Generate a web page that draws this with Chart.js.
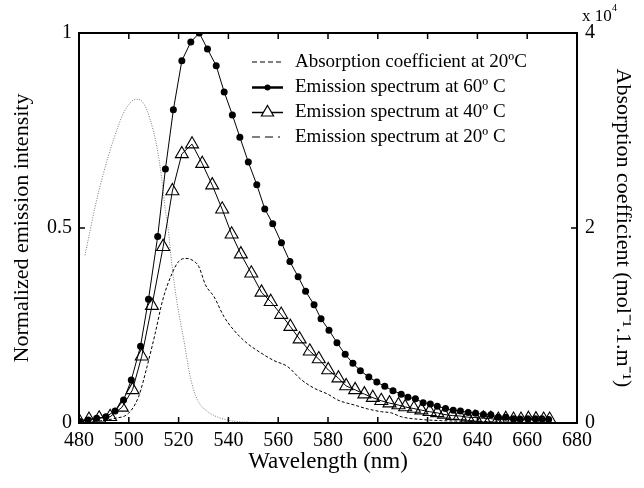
<!DOCTYPE html>
<html>
<head>
<meta charset="utf-8">
<script src="https://cdn.jsdelivr.net/npm/chart.js@4.4.1/dist/chart.umd.min.js"></script>
<style>
html, body { margin: 0; padding: 0; background: #fff; }
#wrap { width: 644px; height: 488px; }
</style>
</head>
<body>
<div id="wrap"><canvas id="chart" width="644" height="488"></canvas></div>
<script>
// emission spectrum at 60 C (wavelength nm, normalized intensity)
var em60Wl = [480.3, 483.7, 487.1, 490.8, 494.5, 497.9, 501.0, 504.7, 507.9, 511.6,
    514.7, 517.9, 521.3, 524.9, 528.3, 531.6, 535.1, 538.3, 541.6, 544.6,
    548.0, 551.4, 554.6, 557.8, 561.3, 564.7, 568.0, 571.0, 574.4, 577.2,
    580.4, 583.6, 586.9, 590.0, 593.0, 596.4, 599.6, 602.8, 606.1, 609.4,
    612.1, 615.1, 618.2, 621.1, 623.9, 627.2, 630.3, 633.2, 636.3, 639.3,
    642.4, 645.4, 648.4, 651.4, 654.5, 657.1, 660.2, 663.2, 665.9, 668.6]
var em60 = [0.004, 0.008, 0.012, 0.016, 0.031, 0.059, 0.110, 0.197, 0.317, 0.478,
    0.651, 0.803, 0.929, 0.977, 1.0, 0.959, 0.916, 0.849, 0.790, 0.733,
    0.669, 0.611, 0.549, 0.511, 0.462, 0.414, 0.375, 0.338, 0.303, 0.267,
    0.238, 0.206, 0.176, 0.153, 0.134, 0.118, 0.105, 0.094, 0.083, 0.074,
    0.066, 0.062, 0.052, 0.049, 0.043, 0.037, 0.033, 0.031, 0.027, 0.025,
    0.022, 0.021, 0.015, 0.015, 0.011, 0.010, 0.011, 0.011, 0.011, 0.009]

// emission spectrum at 40 C
var em40Wl = [480.0, 484.0, 488.1, 492.5, 497.2, 501.5, 505.2, 509.3, 513.8, 517.5,
    521.3, 525.4, 529.5, 533.5, 537.5, 541.3, 545.0, 549.2, 553.3, 557.0,
    561.2, 564.9, 568.6, 572.7, 576.3, 580.1, 584.2, 587.3, 590.9, 594.6,
    598.0, 601.4, 604.7, 608.3, 611.0, 614.5, 617.5, 620.8, 623.9, 626.6,
    629.9, 632.9, 636.0, 639.0, 642.4, 645.4, 648.4, 651.4, 654.5, 657.5,
    660.5, 663.5, 666.6, 669.0]
var em40 = [0.006, 0.009, 0.012, 0.016, 0.040, 0.085, 0.171, 0.301, 0.452, 0.595,
    0.690, 0.715, 0.665, 0.610, 0.548, 0.484, 0.433, 0.384, 0.335, 0.311,
    0.278, 0.247, 0.215, 0.184, 0.164, 0.136, 0.115, 0.095, 0.085, 0.074,
    0.065, 0.057, 0.051, 0.046, 0.041, 0.037, 0.033, 0.029, 0.026, 0.022,
    0.019, 0.018, 0.015, 0.014, 0.012, 0.011, 0.009, 0.011, 0.009, 0.009,
    0.011, 0.010, 0.009, 0.009]

// emission spectrum at 20 C
var em20Wl = [488, 494.5, 499.9, 503.9, 507.3, 510.6, 513.6, 517.4, 520.0, 522.7,
    525.4, 528.1, 530.8, 534.2, 538.2, 542.2, 547.6, 553.0, 558.3, 563.7,
    569.1, 574.5, 579.9, 583.9, 590.6, 596.0, 601.4, 605.4, 609.4, 617.5,
    625.6, 640, 655, 670]
var em20 = [0.005, 0.012, 0.025, 0.067, 0.144, 0.230, 0.315, 0.384, 0.414, 0.422,
    0.418, 0.401, 0.354, 0.324, 0.273, 0.238, 0.204, 0.180, 0.160, 0.145,
    0.112, 0.089, 0.074, 0.059, 0.046, 0.036, 0.029, 0.026, 0.016, 0.009,
    0.006, 0.004, 0.002, 0.001]

// absorption coefficient at 20 C (x 10^4 mol-1.l.m-1)
var absWl = [482.4, 486.5, 489.8, 493.8, 497.9, 501.2, 503.2, 505.9, 508.6, 511.3,
    513.3, 514.7, 515.6, 517.4, 519.4, 522.1, 524.8, 527.5, 531.5, 536.9,
    544.9, 560, 580, 600, 620, 640, 660, 672]
var absCoef = [1.72, 2.22, 2.56, 2.90, 3.18, 3.30, 3.32, 3.28, 3.11, 2.83,
    2.49, 2.18, 2.04, 1.60, 1.23, 0.85, 0.46, 0.24, 0.12, 0.05,
    0.012, 0.004, 0.002, 0, 0, 0, 0, 0]

var xTicks = [480, 680, 20]
var yTicks = [0, 1, 0.5]
var y2Ticks = [0, 4, 2]

var legendLabels = [
    "Absorption coefficient at 20\u00baC",
    "Emission spectrum at 60\u00ba C",
    "Emission spectrum at 40\u00ba C",
    "Emission spectrum at 20\u00ba C"
]

var serif = "'Liberation Serif', 'Times New Roman', serif"

function pts(xs, ys) {
    return xs.map((x, i) => ({ x: x, y: ys[i] }))
}

var framePlugin = {
    id: 'frame',
    afterDatasetsDraw(chart) {
        var ctx = chart.ctx
        var a = chart.chartArea
        var sx = chart.scales.x, sy = chart.scales.y, sy2 = chart.scales.y2
        ctx.save()
        ctx.strokeStyle = '#000'
        ctx.setLineDash([])
        ctx.lineWidth = 2
        ctx.strokeRect(a.left, a.top, a.right - a.left, a.bottom - a.top)
        ctx.lineWidth = 1.5
        ctx.beginPath()
        sx.ticks.forEach(t => {
            var px = sx.getPixelForValue(t.value)
            ctx.moveTo(px, a.bottom); ctx.lineTo(px, a.bottom - 6)
            ctx.moveTo(px, a.top); ctx.lineTo(px, a.top + 6)
        })
        sy.ticks.forEach(t => {
            var py = sy.getPixelForValue(t.value)
            ctx.moveTo(a.left, py); ctx.lineTo(a.left + 6, py)
        })
        sy2.ticks.forEach(t => {
            var py = sy2.getPixelForValue(t.value)
            ctx.moveTo(a.right, py); ctx.lineTo(a.right - 6, py)
        })
        ctx.stroke()

        // x 10^4 multiplier
        ctx.fillStyle = '#000'
        ctx.textBaseline = 'alphabetic'
        ctx.textAlign = 'left'
        ctx.font = '17px ' + serif
        ctx.fillText('x 10', a.right + 5, 21)
        ctx.font = '10px ' + serif
        ctx.fillText('4', a.right + 35, 11)

        // legend
        var rows = [62, 87.5, 112.5, 137]
        var x0 = 252, x1 = 283, xm = (x0 + x1) / 2
        ctx.strokeStyle = '#000'
        ctx.lineWidth = 1
        ctx.setLineDash([5, 3])
        ctx.beginPath(); ctx.moveTo(x0, rows[0]); ctx.lineTo(x1, rows[0]); ctx.stroke()
        ctx.setLineDash([])
        ctx.lineWidth = 2.5
        ctx.beginPath(); ctx.moveTo(x0, rows[1]); ctx.lineTo(x1, rows[1]); ctx.stroke()
        ctx.beginPath(); ctx.arc(xm, rows[1], 3, 0, Math.PI * 2); ctx.fill()
        ctx.lineWidth = 1.5
        ctx.beginPath(); ctx.moveTo(x0, rows[2]); ctx.lineTo(x1, rows[2]); ctx.stroke()
        ctx.lineWidth = 1.2
        ctx.beginPath()
        ctx.moveTo(xm, rows[2] - 7)
        ctx.lineTo(xm + 6.1, rows[2] + 3.5)
        ctx.lineTo(xm - 6.1, rows[2] + 3.5)
        ctx.closePath()
        ctx.fillStyle = '#fff'; ctx.fill(); ctx.stroke()
        ctx.lineWidth = 1.2
        ctx.setLineDash([8, 5, 8, 5, 2, 5])
        ctx.beginPath(); ctx.moveTo(x0, rows[3]); ctx.lineTo(x1 + 2, rows[3]); ctx.stroke()
        ctx.setLineDash([])

        ctx.fillStyle = '#000'
        ctx.font = '19px ' + serif
        ctx.textBaseline = 'middle'
        legendLabels.forEach((s, i) => ctx.fillText(s, 295, rows[i]))
        ctx.restore()
    }
}

var ctx = document.getElementById("chart").getContext('2d')

var config = {
    type: 'line',
    data: {
        datasets: [{
            label: legendLabels[1],
            data: pts(em60Wl, em60),
            borderColor: '#000',
            backgroundColor: '#000',
            borderWidth: 1,
            pointRadius: 3.5,
            pointStyle: 'circle',
            pointBorderWidth: 0,
            tension: 0,
            yAxisID: 'y'
        }, {
            label: legendLabels[2],
            data: pts(em40Wl, em40),
            borderColor: '#000',
            backgroundColor: 'rgba(255,255,255,0)',
            borderWidth: 1,
            pointRadius: 7.5,
            pointStyle: 'triangle',
            pointBorderWidth: 1.1,
            pointBorderColor: '#000',
            tension: 0,
            yAxisID: 'y'
        }, {
            label: legendLabels[3],
            data: pts(em20Wl, em20),
            borderColor: '#000',
            borderWidth: 1,
            borderDash: [3, 2],
            pointRadius: 0,
            cubicInterpolationMode: 'monotone',
            yAxisID: 'y'
        }, {
            label: legendLabels[0],
            data: pts(absWl, absCoef),
            borderColor: '#777',
            borderWidth: 1,
            borderDash: [1, 1.5],
            pointRadius: 0,
            cubicInterpolationMode: 'monotone',
            yAxisID: 'y2'
        }]
    },
    options: {
        responsive: false,
        animation: false,
        layout: { padding: { top: 33 } },
        plugins: { legend: { display: false }, tooltip: { enabled: false } },
        scales: {
            x: {
                type: 'linear',
                min: xTicks[0], max: xTicks[1],
                afterFit: s => { s.height = 65 },
                grid: { display: false, drawTicks: false },
                border: { display: false },
                ticks: { stepSize: xTicks[2], padding: 6, color: '#000', autoSkip: false, maxRotation: 0,
                    font: { family: serif, size: 20 } },
                title: { display: true, text: 'Wavelength (nm)', color: '#000',
                    font: { family: serif, size: 23 }, padding: { top: 0, bottom: 12 } }
            },
            y: {
                position: 'left',
                min: yTicks[0], max: yTicks[1],
                afterFit: s => { s.width = 79 },
                grid: { display: false, drawTicks: false },
                border: { display: false },
                ticks: { stepSize: yTicks[2], padding: 7, color: '#000',
                    font: { family: serif, size: 20 },
                    callback: v => String(v) },
                title: { display: true, text: 'Normalized emission intensity', color: '#000',
                    font: { family: serif, size: 22 }, padding: { top: 9, bottom: 0 } }
            },
            y2: {
                position: 'right',
                min: y2Ticks[0], max: y2Ticks[1],
                afterFit: s => { s.width = 67 },
                grid: { display: false, drawTicks: false },
                border: { display: false },
                ticks: { stepSize: y2Ticks[2], padding: 8, color: '#000',
                    font: { family: serif, size: 20 } },
                title: { display: true, text: 'Absorption coefficient (mol\u207B\u00B9.1.m\u207B\u00B9)', color: '#000',
                    font: { family: serif, size: 22 }, padding: { top: 8, bottom: 0 } }
            }
        }
    },
    plugins: [framePlugin]
}

var lineChart = new Chart(ctx, config)
</script>
</body>
</html>
